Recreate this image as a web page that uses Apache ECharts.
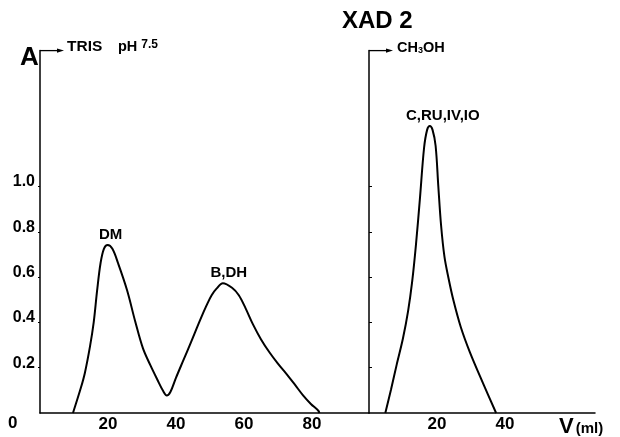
<!DOCTYPE html>
<html><head><meta charset="utf-8">
<script src="https://cdn.jsdelivr.net/npm/echarts@6/dist/echarts.min.js"></script>
<style>html,body{margin:0;padding:0;background:#fff}#c{width:620px;height:437px}</style>
</head><body><div id="c"></div>
<script>
// TRIS pH 7.5 elution (left panel)
const trisVolume = [9.7, 12.0, 13.2, 14.7, 15.8, 16.8, 17.8, 18.8, 19.9, 21.3, 23.0, 25.6, 28.0, 30.3, 32.5, 34.5, 36.2, 37.3, 38.4, 40.0, 42.1, 44.5, 47.1, 49.0, 50.5, 52.0, 53.8, 56.5, 58.5, 60.5, 62.7, 65.0, 67.5, 70.0, 72.5, 75.0, 77.4, 79.7, 81.9, 82.2];
const trisAbs    = [0, 0.11, 0.177, 0.293, 0.40, 0.54, 0.66, 0.725, 0.742, 0.725, 0.66, 0.543, 0.405, 0.285, 0.21, 0.148, 0.098, 0.077, 0.094, 0.155, 0.23, 0.315, 0.41, 0.475, 0.52, 0.55, 0.573, 0.553, 0.52, 0.462, 0.39, 0.326, 0.268, 0.218, 0.173, 0.125, 0.078, 0.04, 0.01, 0];
const trisPeakVolume = [19.9, 53.8];
const trisPeakNames  = ['DM', 'B,DH'];
// CH3OH elution (right panel)
const methVolume = [4.8, 6.5, 8.2, 10.0, 11.5, 12.7, 13.8, 15.0, 16.2, 17.1, 17.9, 18.7, 19.6, 20.4, 21.2, 22.2, 23.4, 24.8, 27.0, 29.7, 33.6, 37.4];
const methAbs    = [0, 0.105, 0.217, 0.33, 0.45, 0.58, 0.74, 0.95, 1.17, 1.25, 1.267, 1.25, 1.18, 1.0, 0.83, 0.69, 0.595, 0.50, 0.38, 0.268, 0.13, 0];
const methPeakVolume = [17.9];
const methPeakNames  = ['C,RU,IV,IO'];
// tick labels
const yTickLabels = [0.2, 0.4, 0.6, 0.8, 1.0];
const xTickLabelsLeft = [20, 40, 60, 80];
const xTickLabelsRight = [20, 40];

const FONT = "'Liberation Sans', Arial, sans-serif";
const chart = echarts.init(document.getElementById('c'), null, {renderer: 'canvas'});

function buildData(vols, vals, peakVols, peakNames, offsets) {
  return vols.map((v, i) => {
    const item = {value: [v, vals[i]]};
    const k = peakVols.indexOf(v);
    if (k >= 0) {
      item.label = {show: true, formatter: peakNames[k], position: 'top', distance: 3,
        offset: offsets[k], color: '#000', fontFamily: FONT, fontWeight: 'bold', fontSize: 15};
    }
    return item;
  });
}

const axisLine = {show: true, lineStyle: {color: '#000', width: 1.5}};
const option = {
  animation: false,
  backgroundColor: '#fff',
  grid: [
    {left: 40, top: 50.6, width: 329, height: 362.4},
    {left: 369, top: 50.6, width: 226, height: 362.4}
  ],
  xAxis: [
    {gridIndex: 0, type: 'value', min: 0, max: 96.8, interval: 20, axisLine: axisLine,
     axisTick: {show: false}, splitLine: {show: false},
     axisLabel: {margin: 3, color: '#000', fontFamily: FONT, fontWeight: 'bold', fontSize: 17,
       formatter: v => xTickLabelsLeft.includes(v) ? String(v) : ''}},
    {gridIndex: 1, type: 'value', min: 0, max: 66.5, interval: 20, axisLine: axisLine,
     axisTick: {show: false}, splitLine: {show: false},
     axisLabel: {margin: 3, color: '#000', fontFamily: FONT, fontWeight: 'bold', fontSize: 17,
       formatter: v => xTickLabelsRight.includes(v) ? String(v) : ''}}
  ],
  yAxis: [
    {gridIndex: 0, type: 'value', min: 0, max: 1.6, interval: 0.2, axisLine: axisLine,
     axisTick: {show: true, length: 2, customValues: yTickLabels, lineStyle: {color: '#000', width: 1}},
     splitLine: {show: false},
     axisLabel: {margin: 5, color: '#000', fontFamily: FONT, fontWeight: 'bold', fontSize: 16,
       verticalAlign: 'bottom', lineHeight: 9,
       formatter: v => yTickLabels.some(t => Math.abs(t - v) < 1e-6) ? v.toFixed(1) : ''}},
    {gridIndex: 1, type: 'value', min: 0, max: 1.6, interval: 0.2, axisLine: axisLine,
     axisTick: {show: true, inside: true, length: 3, customValues: yTickLabels, lineStyle: {color: '#000', width: 1}},
     splitLine: {show: false}, axisLabel: {show: false}}
  ],
  series: [
    {type: 'line', xAxisIndex: 0, yAxisIndex: 0, smooth: 0.35, symbol: 'circle', symbolSize: 0, showSymbol: true,
     lineStyle: {color: '#000', width: 2}, itemStyle: {color: '#000'},
     data: buildData(trisVolume, trisAbs, trisPeakVolume, trisPeakNames, [[3, 0], [6, 0]])},
    {type: 'line', xAxisIndex: 1, yAxisIndex: 1, smooth: 0.35, symbol: 'circle', symbolSize: 0, showSymbol: true,
     lineStyle: {color: '#000', width: 2}, itemStyle: {color: '#000'},
     data: buildData(methVolume, methAbs, methPeakVolume, methPeakNames, [[13, 0]])}
  ]
};
chart.setOption(option);

// decorations tied to axis positions
const tl = chart.convertToPixel({gridIndex: 0}, [0, 1.6]);
const tr = chart.convertToPixel({gridIndex: 1}, [0, 1.6]);
const z = chart.convertToPixel({gridIndex: 0}, [0, 0]);
function arrow(p, len) {
  return [
    {type: 'line', shape: {x1: p[0], y1: p[1], x2: p[0] + len - 5, y2: p[1]}, style: {stroke: '#000', lineWidth: 1.3}},
    {type: 'polygon', shape: {points: [[p[0] + len - 7, p[1] - 2.2], [p[0] + len, p[1]], [p[0] + len - 7, p[1] + 2.2]]}, style: {fill: '#000'}}
  ];
}
const txt = (x, y, text, size, extra) => Object.assign({type: 'text', x: x, y: y,
  style: Object.assign({text: text, fill: '#000', font: 'bold ' + size + 'px ' + FONT, textVerticalAlign: 'middle'}, extra || {})});

chart.setOption({graphic: [].concat(
  arrow(tl, 24), arrow(tr, 24),
  [
    txt(20, 58, 'A', 26),
    txt(tl[0] + 27, 46.5, 'TRIS', 15.5),
    {type: 'text', x: tl[0] + 78, y: 46.5, style: {rich: {p: {fontSize: 14.5, fontWeight: 'bold', fontFamily: FONT, fill: '#000'}, n: {fontSize: 12, fontWeight: 'bold', fontFamily: FONT, fill: '#000', padding: [0, 0, 4, 0]}}, text: '{p|pH }{n|7.5}', textVerticalAlign: 'middle'}},
    txt(342, 21.5, 'XAD 2', 24),
    {type: 'text', x: tr[0] + 28, y: 47.5, style: {rich: {a: {fontSize: 14.5, fontWeight: 'bold', fontFamily: FONT, fill: '#000'}, s: {fontSize: 9, fontWeight: 'bold', fontFamily: FONT, fill: '#000', padding: [6, 0, 0, 0]}}, text: '{a|CH}{s|3}{a|OH}', textVerticalAlign: 'middle'}},
    txt(8, z[1] + 10, '0', 17),
    {type: 'text', x: 559, y: 427, style: {rich: {v: {fontSize: 22, fontWeight: 'bold', fontFamily: FONT, fill: '#000'}, m: {fontSize: 15, fontWeight: 'bold', fontFamily: FONT, fill: '#000', padding: [4, 0, 0, 2]}}, text: '{v|V}{m|(ml)}', textVerticalAlign: 'middle'}}
  ]
)});
</script></body></html>
